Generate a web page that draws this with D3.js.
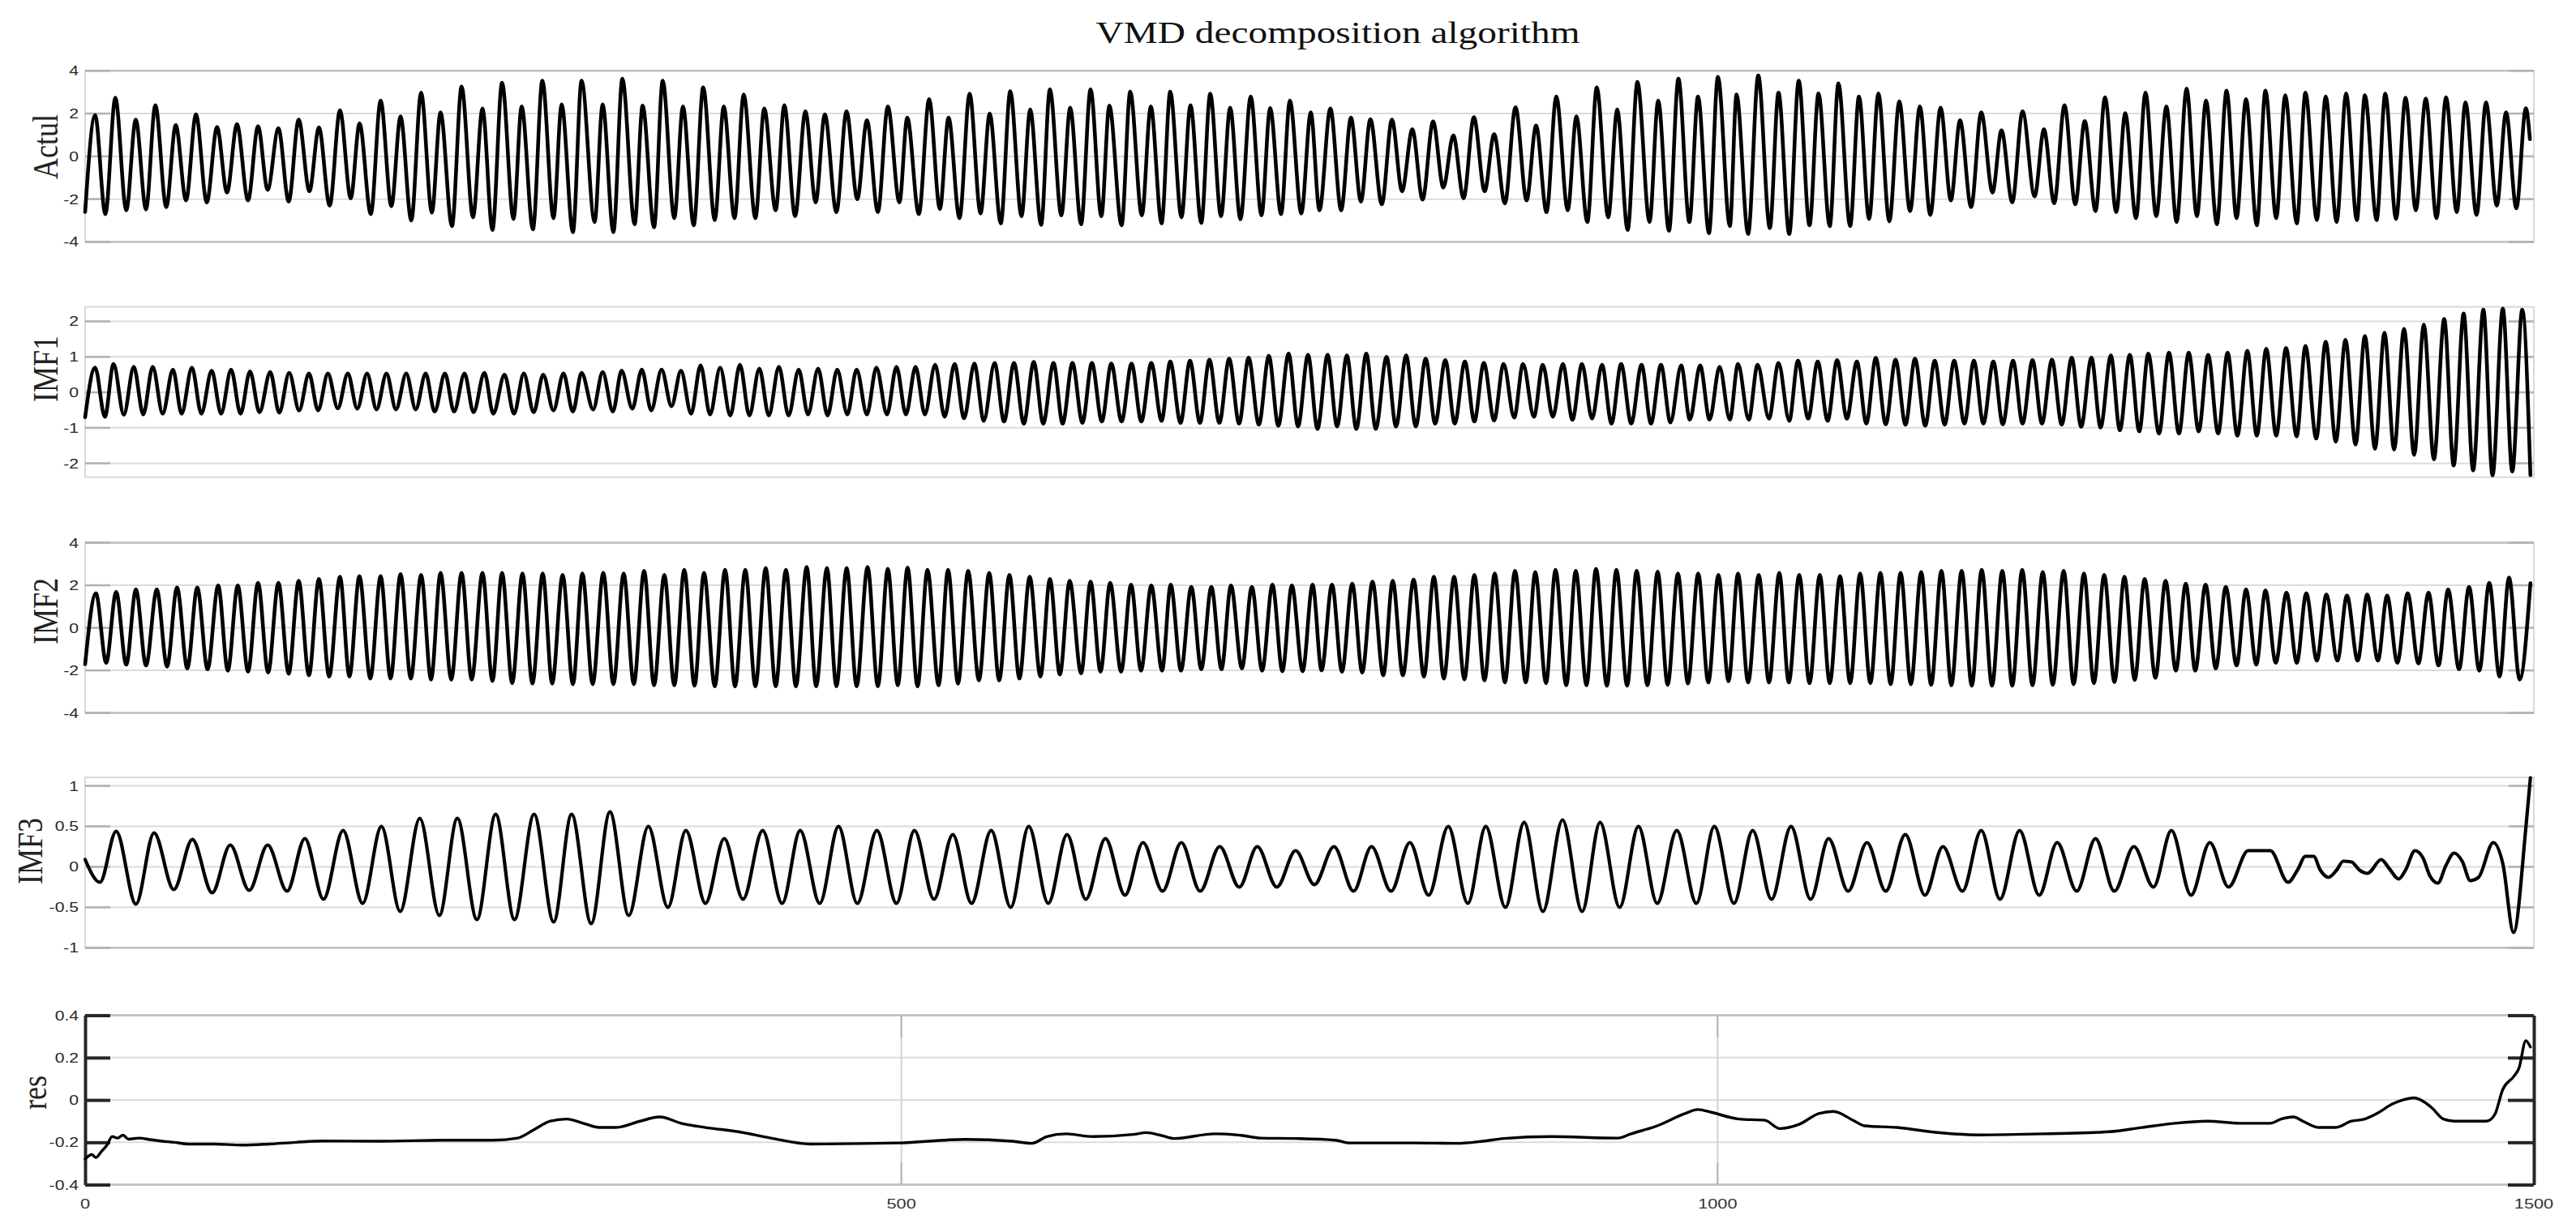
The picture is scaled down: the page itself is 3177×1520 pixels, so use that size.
<!DOCTYPE html>
<html><head><meta charset="utf-8">
<script src="https://cdn.jsdelivr.net/npm/d3@7"></script>
<style>html,body{margin:0;padding:0;background:#fff;} svg{display:block;}</style>
</head><body>
<svg id="chart" width="3177" height="1520"></svg>
<script>
// ---------------- DATA ----------------
const sampleDomain = [0, 1500];
const xTicks = [0, 500, 1000, 1500];
const actulTicks = [-4, -2, 0, 2, 4];
const imf1Ticks = [-2, -1, 0, 1, 2];
const imf2Ticks = [-4, -2, 0, 2, 4];
const imf3Ticks = [-1, -0.5, 0, 0.5, 1];
const resTicks = [-0.4, -0.2, 0, 0.2, 0.4];
const panelNames = ["Actul", "IMF1", "IMF2", "IMF3", "res"];
const titleText = "VMD decomposition algorithm";

// extrema [sample, value]
const actulExtrema = [[0,-2.6],
[6.1,1.93],[12.4,-2.70],[18.5,2.74],[25.2,-2.52],[31.0,1.72],[37.3,-2.48],[43.0,2.39],[49.7,-2.37],[55.5,1.46],[61.8,-2.06],[67.9,1.96],[74.5,-2.15],[80.8,1.37],[86.9,-1.69],[93.0,1.50],[99.8,-2.06],[105.9,1.41],[111.8,-1.56],[118.4,1.31],[124.7,-2.11],[130.8,1.72],[137.4,-1.63],[143.2,1.35],[149.8,-2.30],[156.1,2.15],[162.7,-1.96],[168.1,1.54],[175.0,-2.70],[181.0,2.61],[187.6,-2.33],[193.2,1.87],[199.8,-3.0],[205.8,2.98],[212.4,-2.63],[217.7,2.06],[224.7,-3.26],[230.6,3.26],[237.6,-2.85],[243.4,2.24],[249.5,-3.44],
[255.4,3.44],[262.4,-2.93],[267.4,2.33],[274.3,-3.41],[280.1,3.54],[286.9,-2.89],[291.9,2.43],[298.8,-3.54],[304.1,3.54],[312.1,-3.07],[317.0,2.43],[323.6,-3.54],[329.1,3.63],[336.6,-3.17],[341.5,2.37],[348.5,-3.31],[353.8,3.54],[360.9,-2.89],[366.2,2.33],[372.8,-3.22],[378.6,3.22],[385.7,-2.98],[391.2,2.33],[397.8,-2.89],[403.4,2.89],[410.6,-2.89],[416.0,2.24],[423.0,-2.52],[428.3,2.39],[434.9,-2.80],[441.2,2.11],[447.5,-2.15],[453.1,1.96],[460.2,-2.61],[466.4,2.11],[473.0,-2.0],[478.9,1.69],[485.6,-2.61],[491.7,2.33],[498.8,-2.15],
[503.6,1.81],[510.7,-2.70],[517.0,2.67],[523.6,-2.46],[528.9,1.81],[535.6,-2.89],[541.8,2.93],[548.5,-2.67],[554.1,2.0],[560.9,-3.13],[566.7,3.04],[573.6,-2.80],[578.9,2.19],[585.6,-3.20],[591.0,3.13],[598.0,-2.76],[603.4,2.28],[610.1,-3.17],[615.9,3.13],[622.5,-2.80],[627.4,2.37],[634.9,-3.22],[640.2,3.02],[647.3,-2.76],[652.8,2.33],[659.4,-3.13],[664.7,3.02],[671.6,-2.85],[677.1,2.39],[683.7,-3.11],[689.2,2.93],[695.8,-2.80],[701.4,2.28],[707.7,-2.94],[714.0,2.80],[720.6,-2.76],[725.9,2.26],[732.6,-2.70],[738.0,2.61],[745.0,-2.67],[750.8,2.06],[756.1,-2.52],
[762.8,2.24],[769.4,-2.52],[775.4,1.81],[781.5,-2.11],[787.3,1.74],[794.3,-2.24],[800.5,1.72],[806.7,-1.63],[813.0,1.26],[819.3,-2.02],[825.7,1.63],[832.0,-1.46],[838.1,0.98],[844.4,-1.96],[850.7,1.83],[857.3,-1.63],[863.1,1.04],[869.7,-2.20],[876.2,2.30],[883.0,-2.06],[888.8,1.44],[895.2,-2.61],[901.2,2.80],[908.2,-2.52],[913.5,1.87],[920.2,-3.07],[926.0,3.22],[933.0,-2.85],[938.5,2.19],[944.9,-3.44],[950.9,3.48],[958.3,-3.07],[963.6,2.61],[970.2,-3.48],[976.0,3.63],[982.7,-3.07],[988.0,2.80],[994.7,-3.59],[1000.2,3.72],[1007.5,-3.26],
[1011.6,2.89],[1018.7,-3.63],[1024.9,3.78],[1032.0,-3.35],[1037.3,2.98],[1043.9,-3.63],[1049.7,3.54],[1056.3,-3.22],[1061.8,2.94],[1068.7,-3.26],[1074.0,3.41],[1081.2,-3.26],[1086.6,2.80],[1092.8,-2.93],[1098.5,2.94],[1105.2,-3.04],[1111.3,2.57],[1117.9,-2.56],[1123.9,2.33],[1130.3,-2.74],[1136.6,2.28],[1142.9,-2.06],[1148.5,1.69],[1155.3,-2.37],[1161.5,2.06],[1168.4,-1.69],[1173.9,1.22],[1180.5,-2.15],[1186.8,2.11],[1194.2,-1.87],[1199.9,1.26],[1206.2,-2.19],[1212.5,2.39],[1219.1,-2.24],[1224.9,1.65],[1231.5,-2.56],[1237.3,2.76],[1244.2,-2.61],[1249.7,2.02],[1256.3,-2.89],[1262.1,2.98],
[1268.7,-2.80],[1274.9,2.33],[1281.2,-3.07],[1287.3,3.17],[1293.6,-2.80],[1299.2,2.61],[1305.8,-3.17],[1311.8,3.07],[1317.9,-2.89],[1323.7,2.67],[1330.3,-3.22],[1335.6,3.07],[1342.2,-2.89],[1347.7,2.85],[1354.8,-3.13],[1360.1,2.98],[1367.1,-2.98],[1372.5,2.80],[1379.2,-3.07],[1385.0,2.94],[1391.6,-2.98],[1396.5,2.85],[1403.7,-2.98],[1409.0,2.93],[1415.6,-2.93],[1421.4,2.74],[1427.7,-2.52],[1433.8,2.70],[1440.4,-2.89],[1446.2,2.76],[1452.8,-2.61],[1458.1,2.52],[1464.9,-2.74],[1470.7,2.52],[1477.3,-2.30],[1483.0,2.06],[1489.3,-2.43],[1495.1,2.25],[1497.6,0.8]];

const imf1Extrema = [[0,-0.70],
[6.1,0.70],[12.1,-0.69],[17.4,0.80],[23.7,-0.63],[29.8,0.72],[35.6,-0.62],[41.4,0.72],[47.5,-0.60],[53.8,0.64],[59.1,-0.60],[65.4,0.70],[71.2,-0.60],[77.5,0.61],[83.3,-0.60],[89.4,0.64],[95.2,-0.60],[101.0,0.59],[106.8,-0.56],[113.4,0.57],[118.9,-0.57],[125.0,0.55],[131.1,-0.51],[137.1,0.53],[142.7,-0.51],[148.7,0.53],[154.8,-0.45],[160.9,0.53],[166.7,-0.46],[172.7,0.53],[178.5,-0.48],[184.6,0.53],[190.4,-0.48],[196.7,0.53],[202.5,-0.48],[208.6,0.53],[214.1,-0.54],[220.4,0.53],[226.0,-0.54],[232.4,0.53],[237.9,-0.56],[244.6,0.55],[250.0,-0.60],
[256.9,0.50],[262.7,-0.60],[268.7,0.53],[274.8,-0.56],[280.6,0.50],[286.9,-0.51],[293.0,0.53],[298.8,-0.54],[304.1,0.55],[311.2,-0.48],[317.0,0.57],[323.3,-0.54],[328.6,0.61],[335.2,-0.46],[341.0,0.64],[346.8,-0.51],[353.1,0.64],[359.2,-0.39],[365.0,0.61],[371.2,-0.60],[377.0,0.76],[382.8,-0.62],[389.0,0.70],[395.2,-0.65],[401.1,0.78],[406.9,-0.65],[413.0,0.67],[418.8,-0.65],[425.0,0.72],[430.9,-0.65],[437.1,0.64],[442.8,-0.62],[449.0,0.67],[454.8,-0.65],[460.7,0.64],[466.9,-0.62],[472.6,0.64],[478.9,-0.62],[484.7,0.70],[491.2,-0.62],[497.0,0.72],[502.8,-0.62],
[508.7,0.72],[514.4,-0.62],[520.7,0.78],[526.5,-0.69],[532.6,0.80],[538.4,-0.73],[544.7,0.81],[550.5,-0.80],[557.1,0.83],[562.9,-0.82],[569.0,0.83],[575.0,-0.88],[581.1,0.86],[586.9,-0.88],[593.2,0.83],[598.8,-0.88],[604.8,0.83],[610.9,-0.86],[616.7,0.83],[622.8,-0.82],[628.6,0.81],[634.9,-0.82],[641.0,0.81],[647.0,-0.82],[653.1,0.83],[659.4,-0.80],[664.7,0.87],[671.0,-0.86],[676.8,0.89],[682.9,-0.86],[688.7,0.92],[694.8,-0.86],[700.8,0.95],[706.9,-0.88],[712.7,0.98],[719.0,-0.91],[725.1,1.03],[730.9,-0.94],[737.2,1.09],[743.0,-0.96],[749.1,1.06],[754.9,-1.03],
[761.1,1.06],[766.9,-0.96],[772.9,1.04],[778.7,-1.03],[784.8,1.09],[790.6,-1.03],[797.2,1.00],[803.0,-0.96],[809.2,1.04],[815.1,-0.96],[821.2,0.95],[827.0,-0.88],[833.2,0.91],[839.0,-0.88],[845.2,0.87],[851.0,-0.82],[856.8,0.83],[863.1,-0.79],[868.9,0.80],[875.4,-0.71],[880.8,0.80],[887.5,-0.69],[892.9,0.78],[899.1,-0.69],[905.2,0.80],[911.1,-0.77],[916.9,0.80],[923.1,-0.74],[929.2,0.78],[935.0,-0.88],[940.9,0.80],[947.1,-0.88],[953.4,0.78],[959.2,-0.88],[965.3,0.78],[971.1,-0.85],[977.7,0.76],[983.0,-0.77],[989.3,0.76],[995.1,-0.77],[1001.2,0.72],[1007.5,-0.77],
[1012.5,0.80],[1019.1,-0.77],[1024.5,0.78],[1031.5,-0.74],[1037.3,0.83],[1043.9,-0.80],[1049.2,0.89],[1055.5,-0.74],[1061.3,0.87],[1067.4,-0.80],[1073.2,0.91],[1079.2,-0.74],[1085.3,0.87],[1091.1,-0.88],[1096.9,0.97],[1103.0,-0.90],[1109.0,0.92],[1115.1,-0.91],[1120.9,0.95],[1127.2,-0.94],[1133.0,0.89],[1139.1,-0.91],[1144.9,0.89],[1151.2,-0.88],[1157.0,0.89],[1162.8,-0.88],[1168.9,0.87],[1174.7,-0.90],[1181.0,0.89],[1186.8,-0.88],[1192.9,0.91],[1198.7,-0.88],[1204.8,0.92],[1210.8,-0.91],[1216.9,0.98],[1222.7,-0.97],[1229.0,0.98],[1234.6,-0.99],[1240.9,1.04],[1246.4,-1.07],[1252.5,1.06],[1258.3,-1.10],[1263.8,1.09],
[1270.4,-1.16],[1276.5,1.12],[1282.6,-1.16],[1288.6,1.12],[1294.7,-1.10],[1300.5,1.06],[1306.6,-1.16],[1312.4,1.12],[1318.4,-1.22],[1324.5,1.17],[1330.3,-1.22],[1336.1,1.23],[1342.2,-1.22],[1348.2,1.25],[1354.7,-1.24],[1360.1,1.31],[1366.7,-1.30],[1372.5,1.43],[1378.7,-1.39],[1384.6,1.48],[1390.8,-1.47],[1396.5,1.59],[1402.7,-1.59],[1408.5,1.68],[1414.4,-1.61],[1420.5,1.79],[1426.7,-1.76],[1432.6,1.91],[1438.8,-1.89],[1445.1,2.07],[1450.9,-2.06],[1457.0,2.22],[1462.8,-2.20],[1469.1,2.33],[1474.7,-2.34],[1481.0,2.36],[1486.8,-2.23],[1492.9,2.33],[1497.9,-2.33]];

const imf2Extrema = [[0,-1.71],
[6.6,1.62],[12.9,-1.64],[19.0,1.69],[25.2,-1.73],[31.1,1.80],[37.3,-1.77],[43.9,1.80],[50.2,-1.82],[56.3,1.90],[62.6,-1.91],[68.7,1.90],[75.0,-1.95],[81.5,1.99],[87.4,-2.01],[93.5,1.99],[99.8,-2.06],[105.9,2.12],[112.1,-2.10],[118.4,2.12],[124.7,-2.16],[130.8,2.21],[137.1,-2.23],[143.2,2.30],[149.5,-2.29],[156.1,2.40],[161.9,-2.29],[168.0,2.43],[174.7,-2.38],[181.0,2.43],[187.1,-2.38],[193.2,2.53],[199.5,-2.38],[205.8,2.49],[211.9,-2.43],[217.7,2.58],[224.3,-2.43],[230.6,2.58],[236.8,-2.43],[243.4,2.58],[249.5,-2.5],
[255.4,2.58],[261.6,-2.6],[267.9,2.55],[274.0,-2.62],[280.3,2.55],[286.1,-2.62],[292.5,2.49],[298.8,-2.65],[304.6,2.55],[310.9,-2.65],[317.4,2.58],[323.6,-2.65],[329.9,2.55],[336.1,-2.65],[342.4,2.68],[348.5,-2.7],[354.8,2.49],[360.9,-2.7],[367.0,2.73],[373.3,-2.72],[379.1,2.58],[385.7,-2.75],[392.0,2.73],[398.1,-2.75],[404.4,2.73],[410.6,-2.75],[416.9,2.81],[423.0,-2.75],[429.3,2.73],[435.4,-2.75],[442.0,2.86],[447.8,-2.75],[454.4,2.81],[460.2,-2.75],[466.5,2.81],[472.6,-2.75],[479.3,2.86],[485.6,-2.75],[491.7,2.77],[497.8,-2.7],[503.8,2.83],
[509.9,-2.75],[516.0,2.73],[522.8,-2.7],[528.6,2.73],[534.7,-2.62],[540.9,2.68],[547.5,-2.47],[553.8,2.58],[559.9,-2.47],[566.2,2.49],[572.3,-2.38],[578.6,2.40],[585.2,-2.29],[591.0,2.30],[597.1,-2.19],[603.1,2.21],[610.1,-2.14],[615.9,2.17],[622.0,-2.06],[627.9,2.12],[634.6,-2.06],[640.7,2.03],[646.8,-2.01],[653.1,1.99],[659.7,-2.01],[665.0,2.03],[671.3,-2.01],[677.6,1.93],[683.7,-1.95],[689.9,1.93],[696.1,-1.95],[701.9,1.99],[708.6,-1.91],[714.7,1.93],[721.0,-2.01],[727.3,2.03],[733.4,-2.04],[739.2,1.99],[745.8,-2.04],[751.9,2.03],[757.4,-2.0],
[763.8,2.03],[769.9,-2.06],[776.2,2.08],[782.3,-2.10],[788.6,2.17],[795.2,-2.23],[801.0,2.21],[807.2,-2.23],[813.8,2.27],[820.1,-2.29],[826.2,2.40],[832.3,-2.38],[838.6,2.40],[844.9,-2.42],[851.0,2.49],[857.2,-2.47],[863.5,2.55],[869.7,-2.57],[875.9,2.68],[882.5,-2.57],[888.3,2.62],[894.9,-2.60],[900.7,2.73],[907.3,-2.7],[913.1,2.68],[919.7,-2.7],[925.5,2.77],[932.2,-2.72],[938.0,2.73],[944.6,-2.72],[950.4,2.68],[957.0,-2.7],[963.3,2.64],[969.4,-2.68],[975.7,2.55],[981.8,-2.62],[988.1,2.55],[994.3,-2.57],[1000.5,2.49],[1006.7,-2.51],
[1012.5,2.55],[1018.7,-2.57],[1025.2,2.49],[1031.5,-2.57],[1037.8,2.58],[1043.6,-2.57],[1050.0,2.49],[1056.3,-2.6],[1062.6,2.49],[1068.7,-2.6],[1075.0,2.43],[1081.2,-2.6],[1087.3,2.55],[1093.6,-2.6],[1099.7,2.58],[1106.0,-2.65],[1112.1,2.58],[1118.4,-2.65],[1124.7,2.62],[1130.8,-2.68],[1137.1,2.68],[1143.2,-2.7],[1149.5,2.68],[1155.7,-2.72],[1161.8,2.73],[1168.1,-2.72],[1174.4,2.68],[1180.5,-2.72],[1186.6,2.73],[1192.9,-2.7],[1199.2,2.62],[1205.3,-2.68],[1212.0,2.68],[1218.1,-2.65],[1224.4,2.55],[1230.5,-2.6],[1236.8,2.49],[1243.1,-2.55],[1249.2,2.40],[1255.5,-2.45],[1261.6,2.30],
[1268.2,-2.35],[1274.4,2.21],[1280.7,-2.01],[1286.8,2.08],[1292.6,-2.01],[1298.9,2.03],[1305.2,-1.91],[1311.3,1.93],[1317.9,-1.77],[1323.7,1.80],[1330.0,-1.73],[1335.6,1.75],[1341.9,-1.64],[1348.5,1.65],[1354.8,-1.64],[1360.6,1.62],[1367.1,-1.54],[1372.9,1.56],[1379.7,-1.54],[1385.5,1.52],[1392.1,-1.54],[1397.9,1.56],[1404.5,-1.54],[1410.1,1.52],[1416.4,-1.64],[1422.7,1.62],[1429.3,-1.67],[1435.5,1.65],[1441.6,-1.77],[1447.5,1.80],[1454.2,-1.95],[1460.3,1.93],[1466.6,-2.01],[1472.7,2.12],[1479.0,-2.29],[1484.8,2.36],[1491.3,-2.43],[1497.9,2.10]];

const imf3Extrema = [[0,0.09],[9.1,-0.19],[19.0,0.44],[31.1,-0.46],[42.2,0.42],[54.3,-0.28],[65.7,0.34],[77.8,-0.32],[88.9,0.27],[100.5,-0.29],[111.8,0.27],[123.7,-0.30],[134.6,0.35],[146,-0.4],[158,0.45],[170,-0.45],[181.5,0.5],[193,-0.55],[205,0.6],[217,-0.6],[228,0.6],[240,-0.65],[251.5,0.65],[263,-0.65],[275,0.65],[287,-0.68],[298,0.65],[310,-0.7],[321.5,0.68],[333,-0.6],[345,0.5],[357,-0.5],[368,0.45],[380,-0.45],[391.5,0.35],[403,-0.4],[415,0.45],[427,-0.45],[438,0.45],[450,-0.45],[461.5,0.5],[473,-0.45],[485,0.45],[497,-0.45],[508,0.45],[520,-0.4],[531.5,0.4],[543,-0.45],[555,0.45],[567,-0.5],[578,0.5],[590,-0.45],[601.5,0.4],[613,-0.4],[625,0.35],[637,-0.35],[648,0.3],[660,-0.3],[671.5,0.3],[683,-0.3],[695,0.25],[707,-0.25],[718,0.25],[730,-0.25],[741.5,0.2],[753,-0.22],[765,0.25],[777,-0.3],[788,0.25],[800,-0.3],[811.5,0.3],[823,-0.35],[835,0.5],[847,-0.45],[858,0.5],[870,-0.5],[881.5,0.55],[893,-0.55],[905,0.58],[917,-0.55],[928,0.55],[940,-0.5],[951.5,0.5],[963,-0.45],[975,0.45],[987,-0.45],[998,0.5],[1010,-0.45],[1021.5,0.45],[1033,-0.4],[1045,0.5],[1057,-0.4],[1068,0.35],[1080,-0.3],[1091.5,0.3],[1103,-0.3],[1115,0.4],[1127,-0.35],[1138,0.25],[1150,-0.3],[1161.5,0.45],[1173,-0.4],[1185,0.45],[1197,-0.35],[1208,0.3],[1220,-0.3],[1231.5,0.35],[1243,-0.3],[1255,0.25],[1267,-0.25],[1278,0.45],[1290,-0.35],[1301.5,0.3],[1313,-0.25],[1325,0.2],
[1338.6,0.20],[1349.4,-0.19],[1355.2,-0.04],[1360.1,0.13],[1365.1,0.13],[1369.2,-0.04],[1374.2,-0.13],[1379.2,-0.04],[1383.3,0.07],[1388.3,0.06],[1393.2,-0.04],[1398.2,-0.08],[1406.5,0.09],[1411.4,-0.02],[1417.2,-0.15],[1421.4,-0.04],[1427.2,0.20],[1432.1,0.11],[1436.3,-0.11],[1441.2,-0.20],[1446.2,0.02],[1451.2,0.17],[1456.1,0.07],[1461.1,-0.17],[1466.1,-0.13],[1475.2,0.30],[1481.0,0.04],[1487.6,-0.81],[1495.1,0.48],[1497.9,1.10]];

const resPoints = [[0,-0.279],[4.1,-0.258],[6.6,-0.272],[9.9,-0.244],[13.2,-0.215],[16.6,-0.173],[19.9,-0.18],[23.2,-0.166],[26.5,-0.185],[33.1,-0.18],[39.7,-0.187],[46.4,-0.194],[54.6,-0.2],[62.9,-0.208],[79.5,-0.208],[96,-0.213],[112.6,-0.208],[129.1,-0.2],[145.7,-0.194],[180,-0.195],[220,-0.19],[250,-0.19],[265,-0.18],[275,-0.14],[285,-0.1],[295,-0.09],[305,-0.11],[315,-0.13],[325,-0.13],[340,-0.1],[352,-0.08],[365,-0.11],[380,-0.13],[400,-0.15],[420,-0.18],[444.5,-0.208],[498,-0.203],[539,-0.186],[568,-0.195],[580,-0.205],[589,-0.173],[601,-0.16],[617,-0.173],[642,-0.163],[650,-0.154],[659,-0.167],[667,-0.182],[692,-0.16],[708,-0.167],[720,-0.18],[741,-0.182],[766,-0.19],[774,-0.203],[815,-0.203],[840,-0.205],[856,-0.195],[869,-0.182],[898,-0.173],[939,-0.18],[947,-0.16],[963,-0.122],[980,-0.064],[988,-0.045],[996,-0.058],[1013,-0.09],[1029,-0.096],[1038,-0.135],[1050,-0.115],[1062,-0.064],[1071,-0.054],[1083,-0.096],[1090,-0.122],[1110,-0.13],[1130,-0.15],[1160,-0.165],[1200,-0.16],[1240,-0.15],[1260,-0.13],[1280,-0.11],[1300,-0.1],[1320,-0.11],
[1338.6,-0.11],[1345.2,-0.09],[1352.7,-0.08],[1358.5,-0.10],[1368.4,-0.13],[1378.3,-0.13],[1388.3,-0.10],[1396.5,-0.09],[1404.8,-0.06],[1413.1,-0.02],[1419.7,0.0],[1426.3,0.01],[1433.0,-0.01],[1437.9,-0.04],[1444.6,-0.09],[1451.2,-0.10],[1461.1,-0.10],[1471.0,-0.10],[1476.0,-0.07],[1481.0,0.05],[1487.6,0.11],[1490.9,0.15],[1495.1,0.28],[1497.9,0.25]];

// ---------------- LAYOUT ----------------
const X0 = 105, X1 = 3125;
const panels = [
  {name: panelNames[0], data: actulExtrema, top: 87.3, bottom: 298.5, domain: [-4, 4], ticks: actulTicks, labelX: 55, labelY: 181, sw: 4.6},
  {name: panelNames[1], data: imf1Extrema, top: 378.6, bottom: 588.7, domain: [-2.39, 2.41], ticks: imf1Ticks, labelX: 55, labelY: 455, sw: 4.6},
  {name: panelNames[2], data: imf2Extrema, top: 669.6, bottom: 879.6, domain: [-4, 4], ticks: imf2Ticks, labelX: 55, labelY: 754, sw: 4.6},
  {name: panelNames[3], data: imf3Extrema, top: 959.2, bottom: 1169.4, domain: [-1, 1.104], ticks: imf3Ticks, labelX: 36, labelY: 1050, sw: 4.2},
  {name: panelNames[4], data: resPoints, top: 1252.6, bottom: 1461.6, domain: [-0.4, 0.4], ticks: resTicks, labelX: 41, labelY: 1348, sw: 3.4, res: true}
];

const svg = d3.select("#chart");
const x = d3.scaleLinear().domain(sampleDomain).range([X0, X1]);
const TXS = 1.28; // horizontal stretch of text in the reference

svg.append("text")
  .attr("transform", `translate(1650,53) scale(${TXS},1)`)
  .attr("text-anchor", "middle")
  .style("font-family", "'Liberation Serif','Times New Roman',serif")
  .style("font-size", "37px").attr("fill", "#111")
  .text(titleText);

panels.forEach(p => {
  const y = d3.scaleLinear().domain(p.domain).range([p.bottom, p.top]);
  const g = svg.append("g");
  const isEdge = v => Math.abs(y(v) - p.top) < 1 || Math.abs(y(v) - p.bottom) < 1;

  g.append("rect").attr("x", X0).attr("y", p.top).attr("width", X1 - X0).attr("height", p.bottom - p.top)
    .attr("fill", "none").attr("stroke", "#d9d9d9").attr("stroke-width", 2);

  g.selectAll(".grid").data(p.ticks).enter().append("line")
    .attr("x1", X0).attr("x2", X1).attr("y1", d => y(d)).attr("y2", d => y(d))
    .attr("stroke", d => isEdge(d) ? "#c2c2c2" : "#dcdcdc").attr("stroke-width", d => isEdge(d) ? 2.6 : 2);

  if (p.res) {
    const inner = xTicks.filter(t => t > sampleDomain[0] && t < sampleDomain[1]);
    g.selectAll(".vgrid").data(inner).enter().append("line")
      .attr("x1", d => x(d)).attr("x2", d => x(d)).attr("y1", p.top).attr("y2", p.bottom)
      .attr("stroke", "#d2d2d2").attr("stroke-width", 2);
    g.selectAll(".vtick").data(inner).enter().append("g")
      .each(function(d) {
        d3.select(this).append("line").attr("x1", x(d)).attr("x2", x(d)).attr("y1", p.top).attr("y2", p.top + 27).attr("stroke", "#b5b5b5").attr("stroke-width", 2);
        d3.select(this).append("line").attr("x1", x(d)).attr("x2", x(d)).attr("y1", p.bottom).attr("y2", p.bottom - 27).attr("stroke", "#b5b5b5").attr("stroke-width", 2);
      });
    const axisL = d3.axisLeft(y).tickValues(p.ticks).tickSizeInner(-31).tickSizeOuter(0).tickFormat("");
    const axisR = d3.axisRight(y).tickValues(p.ticks).tickSizeInner(-32).tickSizeOuter(0).tickFormat("");
    const gl = g.append("g").attr("transform", `translate(${X0},0)`).call(axisL);
    const gr = g.append("g").attr("transform", `translate(${X1},0)`).call(axisR);
    [gl, gr].forEach(a => {
      a.select(".domain").attr("stroke", "#262626").attr("stroke-width", 4);
      a.selectAll(".tick line").attr("stroke", "#262626").attr("stroke-width", 4);
    });
    g.selectAll(".xlab").data(xTicks).enter().append("text")
      .attr("transform", d => `translate(${x(d)},${p.bottom + 29}) scale(${TXS},1)`)
      .attr("text-anchor", "middle")
      .style("font-family", "'Liberation Sans',Arial,sans-serif").style("font-size", "17px").attr("fill", "#333")
      .text(d => d);
  } else {
    g.selectAll(".tickL").data(p.ticks).enter().append("line")
      .attr("x1", X0).attr("x2", X0 + 31).attr("y1", d => y(d)).attr("y2", d => y(d))
      .attr("stroke", "#b3b3b3").attr("stroke-width", 2.6);
    g.selectAll(".tickR").data(p.ticks).enter().append("line")
      .attr("x1", X1 - 31).attr("x2", X1).attr("y1", d => y(d)).attr("y2", d => y(d))
      .attr("stroke", "#b3b3b3").attr("stroke-width", 2.6);
  }

  g.selectAll(".ylab").data(p.ticks).enter().append("text")
    .attr("transform", d => `translate(97,${y(d)}) scale(${TXS},1)`)
    .attr("text-anchor", "end").attr("dy", "0.36em")
    .style("font-family", "'Liberation Sans',Arial,sans-serif").style("font-size", "16.5px").attr("fill", "#262626")
    .text(d => String(d));

  g.append("text")
    .attr("transform", `translate(${p.labelX},${p.labelY}) scale(1.25,1) rotate(-90)`)
    .attr("text-anchor", "middle").attr("dy", "0.35em")
    .style("font-family", "'Liberation Serif','Times New Roman',serif").style("font-size", "36px").attr("fill", "#222")
    .text(p.name);

  const line = d3.line().x(d => x(d[0])).y(d => y(d[1])).curve(d3.curveMonotoneX);
  g.append("path").datum(p.data).attr("d", line)
    .attr("fill", "none").attr("stroke", "#000").attr("stroke-width", p.sw)
    .attr("stroke-linejoin", "round").attr("stroke-linecap", "round");
});
</script>
</body></html>
